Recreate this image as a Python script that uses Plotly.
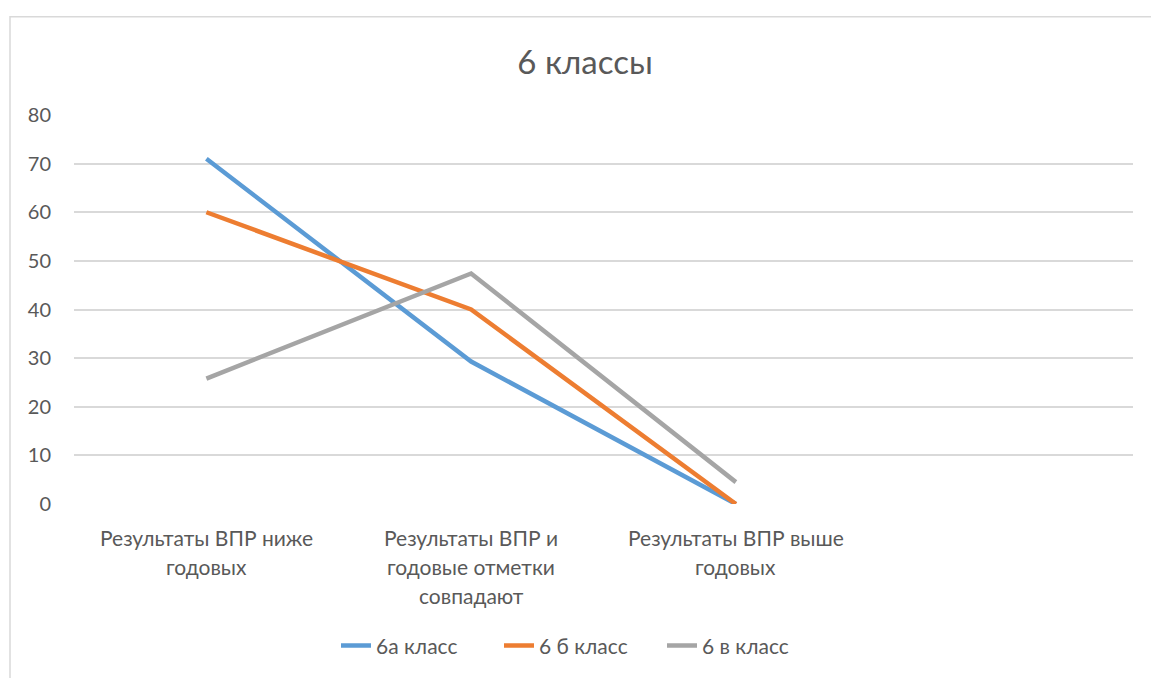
import plotly.graph_objects as go

categories = ["Результаты ВПР ниже годовых",
              "Результаты ВПР и годовые отметки совпадают",
              "Результаты ВПР выше годовых"]
label_lines = [["Результаты ВПР ниже", "годовых"],
               ["Результаты ВПР и", "годовые отметки", "совпадают"],
               ["Результаты ВПР выше", "годовых"]]
series_names = ["6а класс", "6 б класс", "6 в класс"]
values_6a = [71, 29.3, 0]
values_6b = [60, 40, 0]
values_6v = [25.8, 47.4, 4.5]
colors = ["#5B9BD5", "#ED7D31", "#A5A5A5"]
y_ticks = [0, 10, 20, 30, 40, 50, 60, 70, 80]

FONT = "Lato"
TXT = "#595959"

x_pos = list(range(len(categories)))
fig = go.Figure()
for name, vals, col in zip(series_names, [values_6a, values_6b, values_6v], colors):
    fig.add_trace(go.Scatter(x=x_pos, y=vals, mode="lines", name=name,
                             line=dict(color=col, width=4.5)))

annotations = []
for i, lines in enumerate(label_lines):
    for j, line in enumerate(lines):
        annotations.append(dict(x=i, xref="x", y=0, yref="paper",
                                yanchor="middle", xanchor="center",
                                yshift=-33 - 29 * j, text=line, showarrow=False,
                                font=dict(family=FONT, size=21, color=TXT)))

L, R, T, B = 74, 18, 115, 171
W, H = 1151, 678
pw, ph = W - L - R, H - T - B

fig.update_layout(
    width=W, height=H,
    margin=dict(l=L, r=R, t=T, b=B),
    paper_bgcolor="white", plot_bgcolor="white",
    title=dict(text="6 классы", x=585 / W, xref="container", xanchor="center",
               y=1 - 62 / H, yref="container", yanchor="middle",
               font=dict(family=FONT, size=33, color=TXT)),
    xaxis=dict(range=[-0.5, 3.5], showgrid=False, zeroline=False,
               showticklabels=False, showline=False, fixedrange=True),
    yaxis=dict(range=[0, 80], tickvals=y_ticks, showgrid=True,
               gridcolor="#D9D9D9", gridwidth=1.5, zeroline=False, showline=False,
               ticklabelstandoff=22, fixedrange=True,
               tickfont=dict(family=FONT, size=20, color=TXT)),
    legend=dict(orientation="h", x=(336 - L) / pw, xanchor="left",
                y=(507 - 650) / ph, yanchor="middle",
                font=dict(family=FONT, size=21, color=TXT),
                entrywidth=118, entrywidthmode="pixels",
                itemwidth=30, tracegroupgap=0),
    annotations=annotations,
    showlegend=True,
    shapes=[dict(type="rect", xref="paper", yref="paper",
                 x0=(10 - L) / pw, x1=(1170 - L) / pw,
                 y0=(507 - 700) / ph, y1=(507 - 16) / ph,
                 line=dict(color="#D9D9D9", width=1.5), fillcolor="rgba(0,0,0,0)",
                 layer="below")],
)

fig.write_html("out.html", config={"displayModeBar": False},
               post_script="document.body.style.margin='0';document.body.style.overflow='hidden';")
